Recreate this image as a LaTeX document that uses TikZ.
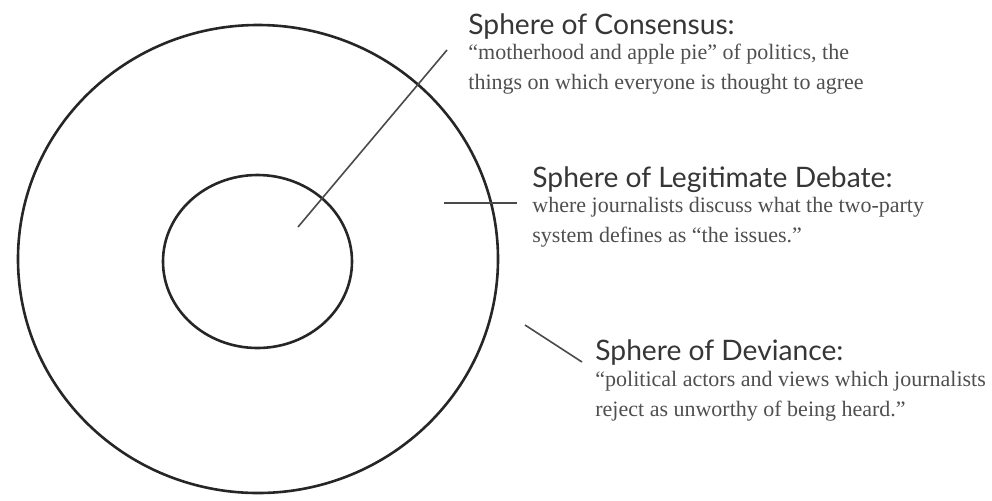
\documentclass[tikz,border=0pt]{standalone}
\usepackage{fontspec}
\setmainfont{Liberation Serif}
\setsansfont{Lato}
\usepackage{xcolor}
\usepackage{tikz}
\usetikzlibrary{positioning}

\definecolor{titlegray}{HTML}{363636}
\definecolor{bodygray}{HTML}{4F4F4F}
\definecolor{leadgray}{HTML}{4A4A4A}

\tikzset{
    sphere/.style={draw=black!85, line width=1.3pt},
    leader/.style={draw=leadgray, line width=0.8pt},
    spheretitle/.style={anchor=base west, inner sep=0pt, text=titlegray, font=\sffamily\fontsize{14.1}{17}\selectfont},
    spheretext/.style={anchor=north west, inner sep=0pt, align=left, text=bodygray, font=\rmfamily\fontsize{11}{15}\selectfont}
}

\begin{document}
\begin{tikzpicture}[x=0.5pt, y=-0.5pt]
    \useasboundingbox (0, 0) rectangle (992, 500);

    \draw[sphere] (258, 259) ellipse [x radius=120pt, y radius=117pt];
    \draw[sphere] (257.5, 261.5) ellipse [x radius=47.25pt, y radius=43.25pt];

    \node[spheretitle] (cons-title) at (468, 34) {Sphere of Consensus:};
    \node[spheretext] (cons-text) at (468, 44) {``motherhood and apple pie'' of politics, the\\things on which everyone is thought to agree};

    \node[spheretitle] (legit-title) at (532, 187) {Sphere of Legitimate Debate:};
    \node[spheretext] (legit-text) at (532, 197) {where journalists discuss what the two-party\\system defines as ``the issues.''};

    \node[spheretitle] (dev-title) at (595, 360) {Sphere of Deviance:};
    \node[spheretext] (dev-text) at (595, 371) {``political actors and views which journalists\\reject as unworthy of being heard.''};

    \coordinate (cons-in) at (298, 227);
    \coordinate (cons-out) at (447, 50);
    \coordinate (legit-in) at (444, 203);
    \coordinate (legit-out) at (517, 203);
    \coordinate (dev-in) at (525, 325);
    \coordinate (dev-out) at (582, 362);

    \draw[leader] (cons-in) -- (cons-out);
    \draw[leader] (legit-in) -- (legit-out);
    \draw[leader] (dev-in) -- (dev-out);
\end{tikzpicture}
\end{document}
